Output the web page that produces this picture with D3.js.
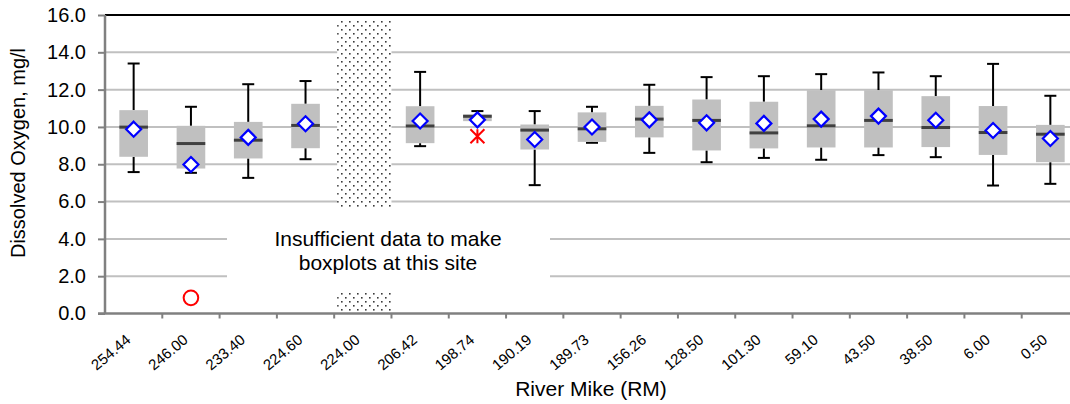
<!DOCTYPE html>
<html>
<head>
<meta charset="utf-8">
<script src="https://cdn.jsdelivr.net/npm/d3@7"></script>
<style>
  html, body { margin: 0; padding: 0; background: #fff; }
  svg { display: block; font-family: "Liberation Sans", Arial, sans-serif; }
</style>
</head>
<body>
<svg id="chart" width="1070" height="404"></svg>
<script>
// River mile stations, upstream to downstream
const sites = ["254.44","246.00","233.40","224.60","224.00","206.42","198.74","190.19","189.73",
               "156.26","128.50","101.30","59.10","43.50","38.50","6.00","0.50"];

// Dissolved oxygen summary statistics (mg/l); null = insufficient data
const whiskerLow  = [7.58, 7.54, 7.27, 8.27, null, 8.97, 10.31, 6.88, 9.15, 8.61, 8.11, 8.34, 8.24, 8.49, 8.38, 6.86, 6.95];
const q1          = [8.40, 7.77, 8.31, 8.86, null, 9.13, 10.31, 8.79, 9.20, 9.44, 8.74, 8.85, 8.90, 8.90, 8.92, 8.50, 8.11];
const median      = [9.99, 9.11, 9.29, 10.08, null, 10.05, 10.57, 9.83, 9.90, 10.42, 10.35, 9.68, 10.06, 10.35, 9.97, 9.70, 9.61];
const q3          = [10.90, 10.06, 10.27, 11.24, null, 11.11, 10.67, 10.13, 10.78, 11.13, 11.47, 11.35, 11.97, 11.97, 11.65, 11.12, 10.11];
const whiskerHigh = [13.40, 11.08, 12.29, 12.46, null, 12.95, 10.85, 10.85, 11.08, 12.26, 12.67, 12.72, 12.83, 12.92, 12.72, 13.38, 11.67];
const means       = [9.88, 7.99, 9.44, 10.17, null, 10.32, 10.38, 9.33, 10.00, 10.38, 10.22, 10.19, 10.42, 10.58, 10.36, 9.81, 9.38];

// Individual flagged observations
const circleSites = ["246.00"];
const circleValues = [0.84];
const starSites = ["198.74"];
const starValues = [9.5];

const noDataSite = "224.00";
const yTicks = [0, 2, 4, 6, 8, 10, 12, 14, 16];
const noteLines = ["Insufficient data to make", "boxplots at this site"];

const svg = d3.select("#chart");
const plotLeft = 105, plotTop = 15, plotBottom = 313.5, plotRight = 1079;

const x = d3.scaleBand().domain(sites).range([plotLeft, plotRight]).padding(0);
const y = d3.scaleLinear().domain([0, 16]).range([plotBottom, plotTop]);

// dotted fill for the station without boxplot
const defs = svg.append("defs");
const pat = defs.append("pattern").attr("id", "dots").attr("patternUnits", "userSpaceOnUse")
  .attr("width", 8).attr("height", 8);
pat.append("rect").attr("width", 8).attr("height", 8).attr("fill", "#fff");
pat.append("rect").attr("x", 1).attr("y", 1).attr("width", 1.6).attr("height", 1.6).attr("fill", "#3a3a3a");
pat.append("rect").attr("x", 5).attr("y", 5).attr("width", 1.6).attr("height", 1.6).attr("fill", "#3a3a3a");

// horizontal gridlines
svg.append("g").selectAll("line").data(yTicks.filter(t => t > 0 && t < 16)).join("line")
  .attr("x1", plotLeft).attr("x2", 1070).attr("y1", d => y(d)).attr("y2", d => y(d))
  .attr("stroke", "#c0c0c0").attr("stroke-width", 2);

// top border
svg.append("line").attr("x1", plotLeft).attr("x2", 1070).attr("y1", y(16)).attr("y2", y(16))
  .attr("stroke", "#000").attr("stroke-width", 2);

// no-data station block
const nx = x(noDataSite), bw = x.bandwidth();
svg.append("rect").attr("x", nx + 3).attr("y", y(15.75)).attr("width", bw - 3)
  .attr("height", y(0) - y(15.75)).attr("fill", "url(#dots)");

// note box
svg.append("rect").attr("x", 227).attr("y", y(5.7)).attr("width", 323)
  .attr("height", y(1.15) - y(5.7)).attr("fill", "#fff");
svg.append("g").selectAll("text").data(noteLines).join("text")
  .attr("x", 388).attr("y", (d, i) => 246 + i * 23.5)
  .attr("text-anchor", "middle").attr("font-size", 21).attr("fill", "#000")
  .text(d => d);

// boxplots
const idx = sites.map((s, i) => i).filter(i => median[i] !== null);
const cx = i => x(sites[i]) + bw / 2;
const boxW = bw * 0.5;
const g = svg.append("g");

// whiskers
g.selectAll(".whi").data(idx).join("line").attr("class", "whi")
  .attr("x1", cx).attr("x2", cx).attr("y1", i => y(q3[i])).attr("y2", i => y(whiskerHigh[i]))
  .attr("stroke", "#000").attr("stroke-width", 2);
g.selectAll(".wlo").data(idx).join("line").attr("class", "wlo")
  .attr("x1", cx).attr("x2", cx).attr("y1", i => y(q1[i])).attr("y2", i => y(whiskerLow[i]))
  .attr("stroke", "#000").attr("stroke-width", 2);
g.selectAll(".chi").data(idx).join("line").attr("class", "chi")
  .attr("x1", i => cx(i) - 6).attr("x2", i => cx(i) + 6)
  .attr("y1", i => y(whiskerHigh[i])).attr("y2", i => y(whiskerHigh[i]))
  .attr("stroke", "#000").attr("stroke-width", 2);
g.selectAll(".clo").data(idx).join("line").attr("class", "clo")
  .attr("x1", i => cx(i) - 6).attr("x2", i => cx(i) + 6)
  .attr("y1", i => y(whiskerLow[i])).attr("y2", i => y(whiskerLow[i]))
  .attr("stroke", "#000").attr("stroke-width", 2);

// boxes
g.selectAll(".box").data(idx).join("rect").attr("class", "box")
  .attr("x", i => cx(i) - boxW / 2).attr("width", boxW)
  .attr("y", i => y(q3[i])).attr("height", i => y(q1[i]) - y(q3[i]))
  .attr("fill", "#c0c0c0");

// medians
g.selectAll(".med").data(idx).join("line").attr("class", "med")
  .attr("x1", i => cx(i) - boxW / 2).attr("x2", i => cx(i) + boxW / 2)
  .attr("y1", i => y(median[i])).attr("y2", i => y(median[i]))
  .attr("stroke", "#404040").attr("stroke-width", 3);

// means
const d = 7.5;
g.selectAll(".mean").data(idx).join("path").attr("class", "mean")
  .attr("d", i => {
    const px = cx(i), py = y(means[i]);
    return `M${px},${py - d}L${px + d},${py}L${px},${py + d}L${px - d},${py}Z`;
  })
  .attr("fill", "#fff").attr("stroke", "#0000ff").attr("stroke-width", 2.2);

// flagged values
g.selectAll(".circ").data(circleSites).join("circle").attr("class", "circ")
  .attr("cx", (s) => x(s) + bw / 2).attr("cy", (s, i) => y(circleValues[i])).attr("r", 7.3)
  .attr("fill", "none").attr("stroke", "#ff0000").attr("stroke-width", 2);
g.selectAll(".star").data(starSites).join("path").attr("class", "star")
  .attr("d", (s, i) => {
    const px = x(s) + bw / 2, py = y(starValues[i]), r = 7;
    return `M${px - r},${py - r}L${px + r},${py + r}M${px - r},${py + r}L${px + r},${py - r}M${px},${py - r}L${px},${py + r}`;
  })
  .attr("stroke", "#ff0000").attr("stroke-width", 2).attr("fill", "none");

// y axis
const yAxis = svg.append("g").attr("transform", `translate(${plotLeft},0)`)
  .call(d3.axisLeft(y).tickValues(yTicks).tickFormat(d3.format(".1f")).tickSize(7).tickPadding(12));
yAxis.select(".domain").attr("stroke", "#808080").attr("stroke-width", 2.5)
  .attr("d", `M0,${plotTop}V${plotBottom}`);
yAxis.selectAll(".tick line").attr("stroke", "#808080").attr("stroke-width", 2);
yAxis.selectAll(".tick text").attr("font-size", 20).attr("fill", "#000")
  .attr("font-family", "Liberation Sans, Arial, sans-serif");

// x axis
const xAxis = svg.append("g").attr("transform", `translate(0,${plotBottom})`);
xAxis.append("line").attr("x1", plotLeft - 7).attr("x2", 1070).attr("y1", 0).attr("y2", 0)
  .attr("stroke", "#808080").attr("stroke-width", 2.5);
xAxis.selectAll(".xt").data(sites).join("line").attr("class", "xt")
  .attr("x1", s => x(s) + bw).attr("x2", s => x(s) + bw).attr("y1", 0).attr("y2", 5)
  .attr("stroke", "#808080").attr("stroke-width", 2);
xAxis.selectAll(".xl").data(sites).join("text").attr("class", "xl")
  .attr("transform", s => `translate(${x(s) + bw / 2 - 2},${28}) rotate(-40)`)
  .attr("text-anchor", "end").attr("font-size", 15).attr("fill", "#000")
  .text(s => s);

// axis titles
svg.append("text").attr("transform", "translate(25,153) rotate(-90)")
  .attr("text-anchor", "middle").attr("font-size", 20).attr("fill", "#000")
  .text("Dissolved Oxygen, mg/l");
svg.append("text").attr("x", 591).attr("y", 396)
  .attr("text-anchor", "middle").attr("font-size", 21).attr("fill", "#000")
  .text("River Mike (RM)");
</script>
</body>
</html>
